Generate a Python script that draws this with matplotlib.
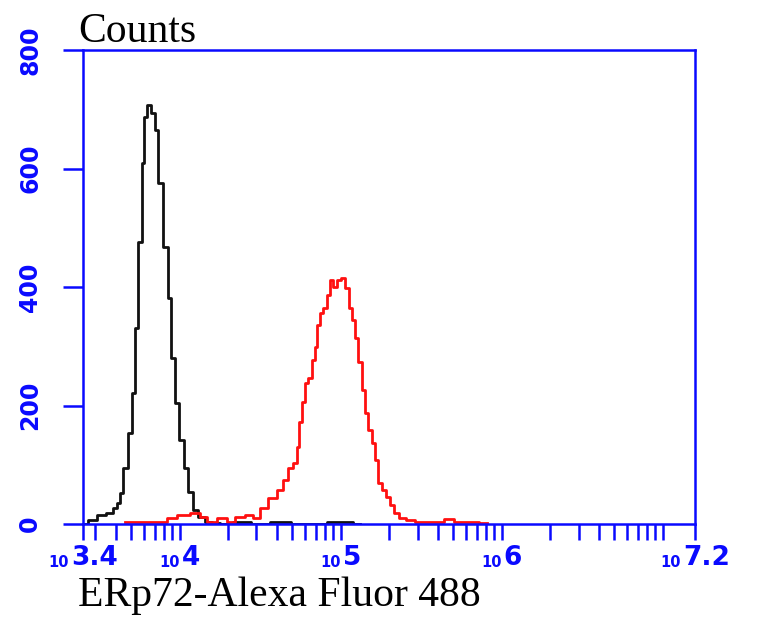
import matplotlib
matplotlib.use('Agg')
import matplotlib.pyplot as plt
from matplotlib.transforms import offset_copy
import numpy as np

# control (black) histogram: log10 intensity, counts
ctrl_log = [3.402, 3.462, 3.516, 3.568, 3.599, 3.617, 3.640, 3.661, 3.692, 3.711,
            3.735, 3.754, 3.773, 3.789, 3.804, 3.835, 3.858, 3.878, 3.916, 3.934,
            3.959, 3.984, 4.013, 4.040, 4.065, 4.096, 4.137, 4.176, 4.22, 4.28,
            4.375, 4.50, 4.62, 4.75, 5.03, 5.12]
ctrl_cnt = [0, 7, 15, 18, 27, 35, 52, 95, 153, 221,
            331, 476, 609, 687, 707, 694, 665, 575, 468, 381,
            280, 204, 142, 95, 54, 24, 12, 3, 2, 0,
            3, 0, 4, 0, 4, 0]

# ERp72 stained (red) histogram
erp_log = [3.661, 3.897, 3.940, 4.021, 4.106, 4.145, 4.189, 4.270, 4.313, 4.375,
           4.437, 4.479, 4.518, 4.580, 4.624, 4.655, 4.686, 4.717, 4.735, 4.748,
           4.766, 4.789, 4.810, 4.829, 4.852, 4.860, 4.883, 4.903, 4.922, 4.945,
           4.965, 4.984, 5.015, 5.040, 5.058, 5.077, 5.100, 5.120, 5.139, 5.162,
           5.183, 5.201, 5.224, 5.245, 5.263, 5.294, 5.317, 5.348, 5.380, 5.431,
           5.493, 5.597, 5.680, 5.721, 5.804, 5.907]
erp_cnt = [4, 4, 10, 15, 18, 12, 4, 10, 4, 12,
           15, 10, 27, 44, 57, 74, 94, 103, 130, 172,
           206, 238, 246, 277, 299, 336, 356, 365, 386, 412,
           400, 412, 415, 398, 365, 344, 314, 273, 226, 187,
           159, 137, 108, 69, 57, 46, 32, 19, 10, 7,
           4, 4, 8, 4, 4, 2]

xtick_exp = [3.4, 4, 5, 6, 7.2]
xtick_txt = ['3.4', '4', '5', '6', '7.2']
ytick_vals = [0, 200, 400, 600, 800]

fig = plt.figure(figsize=(7.68, 6.29), dpi=100)
ax = fig.add_axes([83/768, 1-524/629, (695-83)/768, (524-50)/629])

ax.plot(10**np.array(ctrl_log), ctrl_cnt, color='#111111', lw=2, drawstyle='steps-mid')
ax.plot(10**np.array(erp_log), erp_cnt, color='#ff1010', lw=2, drawstyle='steps-mid')

ax.set_xscale('log')
ax.set_xlim(10**3.4, 10**7.2)
ax.set_ylim(0, 800)

blue = '#0a0aff'
for s in ax.spines.values():
    s.set_color(blue)
    s.set_linewidth(1.8)

ax.set_xticks([10**e for e in xtick_exp])
minor = [m * 10**d for d in range(3, 8) for m in range(1, 10)]
minor = [v for v in minor if 10**3.4 < v < 10**7.2 and v not in (1e4, 1e5, 1e6)]
ax.set_xticks(minor, minor=True)
ax.tick_params(axis='x', which='both', direction='out', length=11.5, width=1.8,
               color=blue, labelbottom=False)

# "10" + exponent labels under the x ticks
renderer = fig.canvas.get_renderer()
xt = ax.get_xaxis_transform()
for e, t in zip(xtick_exp, xtick_txt):
    te = ax.text(10**e, 0, t, transform=xt, ha='left', va='baseline',
                 fontsize=19, fontweight='bold', color=blue)
    tt = ax.text(10**e, 0, '10', transform=xt, ha='right', va='baseline',
                 fontsize=10.5, fontweight='bold', color=blue)
    we = te.get_window_extent(renderer).width
    wt = tt.get_window_extent(renderer).width
    dx = (wt - we) / 2
    te.set_transform(offset_copy(xt, fig, x=dx + 1, y=-41, units='dots'))
    tt.set_transform(offset_copy(xt, fig, x=dx - 1, y=-43, units='dots'))

ax.set_yticks(ytick_vals)
ax.set_yticklabels([str(v) for v in ytick_vals], rotation=90, va='center',
                   fontweight='bold')
ax.tick_params(axis='y', which='major', direction='out', length=14.5, width=1.8,
               color=blue, labelcolor=blue, labelsize=17, pad=15)

fig.text(78/768, 1-41.7/629, 'Counts', family='Liberation Serif', fontsize=30,
         va='baseline', ha='left', color='black')
fig.text(78/768, 1-606/629, 'ERp72-Alexa Fluor 488', family='Liberation Serif',
         fontsize=30, va='baseline', ha='left', color='black')

fig.savefig('out.png', dpi=100)
